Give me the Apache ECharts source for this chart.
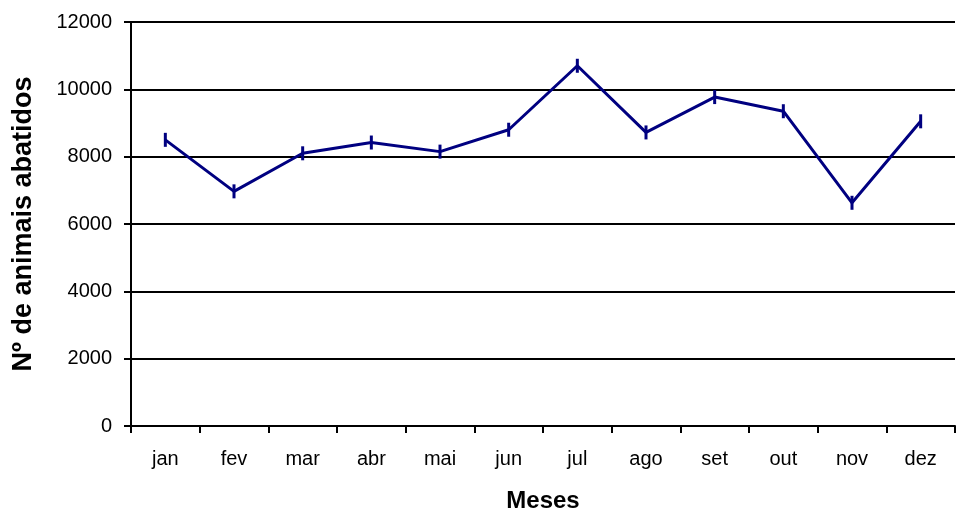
<!DOCTYPE html>
<html><head><meta charset="utf-8">
<script src="https://cdn.jsdelivr.net/npm/echarts@6/dist/echarts.min.js"></script>
<style>html,body{margin:0;padding:0;background:#fff}#c{width:956px;height:513px}</style>
</head><body><div id="c"></div>
<script>
var months = ['jan','fev','mar','abr','mai','jun','jul','ago','set','out','nov','dez'];
var abates = [8500, 6970, 8100, 8420, 8150, 8800, 10700, 8720, 9770, 9350, 6630, 9050];
var yTicks = [0, 2000, 4000, 6000, 8000, 10000, 12000];

var chart = echarts.init(document.getElementById('c'));
var font = 'Liberation Sans, Arial, sans-serif';
chart.setOption({
  animation: false,
  grid: {left: 131, right: 1, top: 22, bottom: 87, containLabel: false, outerBoundsMode: 'none'},
  xAxis: {
    type: 'category', data: months, boundaryGap: true,
    name: 'Meses', nameLocation: 'middle', nameGap: 63,
    nameTextStyle: {fontFamily: font, fontSize: 24, fontWeight: 'bold', color: '#000'},
    axisLine: {lineStyle: {color: '#000', width: 2}},
    axisTick: {show: true, length: 7, lineStyle: {color: '#000', width: 2}, alignWithLabel: false},
    axisLabel: {fontFamily: font, fontSize: 20, color: '#000', margin: 23}
  },
  yAxis: {
    type: 'value', min: yTicks[0], max: yTicks[yTicks.length-1], interval: 2000,
    name: 'Nº de animais abatidos', nameLocation: 'middle', nameGap: 94, nameRotate: 90,
    nameTextStyle: {fontFamily: font, fontSize: 27, fontWeight: 'bold', color: '#000'},
    axisLine: {show: true, lineStyle: {color: '#000', width: 2}},
    axisTick: {show: true, length: 7, lineStyle: {color: '#000', width: 2}},
    axisLabel: {fontFamily: font, fontSize: 20, color: '#000', margin: 19,
      formatter: function (v) { return String(v); }},
    splitLine: {show: true, lineStyle: {color: '#000', width: 2}}
  },
  series: [{
    type: 'line', data: abates,
    lineStyle: {color: '#000080', width: 3},
    itemStyle: {color: '#000080'},
    symbol: 'rect', symbolSize: [3, 14], showAllSymbol: true
  }]
});
</script></body></html>
